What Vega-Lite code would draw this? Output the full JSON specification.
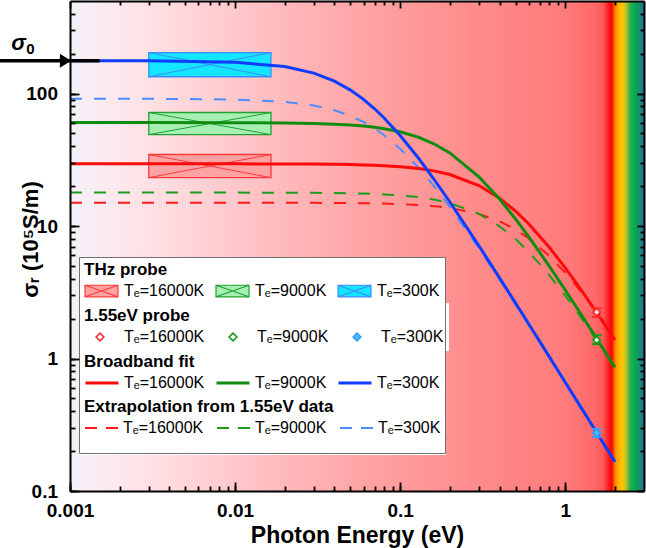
{
  "$schema": "https://vega.github.io/schema/vega-lite/v6.json",
  "width": 574,
  "height": 490,
  "autosize": "none",
  "padding": {"left": 70, "top": 1, "right": 2, "bottom": 57},
  "config": {
    "font": "Liberation Sans",
    "view": {"stroke": null},
    "axis": {
      "domainColor": "black", "domainWidth": 2, "tickColor": "black", "tickWidth": 1.8, "zindex": 1,
      "labelFont": "Liberation Sans", "labelFontSize": 19, "labelFontWeight": "bold", "labelColor": "black",
      "grid": false, "titleFont": "Liberation Sans", "titleFontSize": 23, "titleFontWeight": "bold", "titleColor": "black"
    },
    "legend": {
      "labelFont": "Liberation Sans", "labelFontSize": 16, "labelColor": "black",
      "titleFont": "Liberation Sans", "titleFontSize": 17, "titleFontWeight": "bold", "titleColor": "black",
      "padding": 5, "fillColor": "white", "direction": "horizontal", "columns": 3, "columnPadding": 10,
      "titlePadding": 3, "titleLimit": 400, "labelLimit": 200, "clipHeight": 18
    }
  },
  "datasets": {
    "fit": [
      {"E": 0.001, "16000K": 29.5, "9000K": 60.4, "300K": 177},
      {"E": 0.003, "16000K": 29.5, "9000K": 60.4, "300K": 176.6},
      {"E": 0.01, "16000K": 29.49, "9000K": 60.3, "300K": 172.4},
      {"E": 0.02, "16000K": 29.44, "9000K": 59.98, "300K": 160.0},
      {"E": 0.03, "16000K": 29.36, "9000K": 59.47, "300K": 142.8},
      {"E": 0.04, "16000K": 29.26, "9000K": 58.77, "300K": 124.1},
      {"E": 0.05, "16000K": 29.13, "9000K": 57.89, "300K": 106.3},
      {"E": 0.06, "16000K": 28.96, "9000K": 56.85, "300K": 90.4},
      {"E": 0.07, "16000K": 28.76, "9000K": 55.66, "300K": 76.8},
      {"E": 0.08, "16000K": 28.53, "9000K": 54.36, "300K": 65.5},
      {"E": 0.1, "16000K": 28.07, "9000K": 51.47, "300K": 48.3},
      {"E": 0.13, "16000K": 27.16, "9000K": 46.7, "300K": 32.2},
      {"E": 0.16, "16000K": 26.09, "9000K": 41.82, "300K": 22.66},
      {"E": 0.2, "16000K": 24.5, "9000K": 35.64, "300K": 15.2},
      {"E": 0.3, "16000K": 20.22, "9000K": 23.57, "300K": 7.09},
      {"E": 0.4, "16000K": 16.25, "9000K": 15.99, "300K": 4.06},
      {"E": 0.5, "16000K": 12.97, "9000K": 11.31, "300K": 2.62},
      {"E": 0.6, "16000K": 10.41, "9000K": 8.33, "300K": 1.829},
      {"E": 0.8, "16000K": 6.92, "9000K": 4.99, "300K": 1.033},
      {"E": 1.0, "16000K": 4.84, "9000K": 3.29, "300K": 0.663},
      {"E": 1.2, "16000K": 3.54, "9000K": 2.323, "300K": 0.461},
      {"E": 1.55, "16000K": 2.228, "9000K": 1.414, "300K": 0.2764},
      {"E": 2.0, "16000K": 1.38, "9000K": 0.857, "300K": 0.1661}
    ],
    "extrap": [
      {"E": 0.001, "16000K": 15.0, "9000K": 17.9, "300K": 91.5},
      {"E": 0.003, "16000K": 15.0, "9000K": 17.9, "300K": 91.4},
      {"E": 0.01, "16000K": 15.0, "9000K": 17.89, "300K": 90.25},
      {"E": 0.02, "16000K": 14.99, "9000K": 17.86, "300K": 86.69},
      {"E": 0.03, "16000K": 14.97, "9000K": 17.82, "300K": 81.35},
      {"E": 0.04, "16000K": 14.94, "9000K": 17.76, "300K": 74.88},
      {"E": 0.05, "16000K": 14.91, "9000K": 17.68, "300K": 67.94},
      {"E": 0.06, "16000K": 14.87, "9000K": 17.59, "300K": 61.03},
      {"E": 0.07, "16000K": 14.83, "9000K": 17.47, "300K": 54.47},
      {"E": 0.08, "16000K": 14.77, "9000K": 17.34, "300K": 48.47},
      {"E": 0.1, "16000K": 14.65, "9000K": 17.05, "300K": 38.33},
      {"E": 0.13, "16000K": 14.42, "9000K": 16.51, "300K": 27.36},
      {"E": 0.16, "16000K": 14.14, "9000K": 15.88, "300K": 20.1},
      {"E": 0.2, "16000K": 13.7, "9000K": 14.93, "300K": 13.97},
      {"E": 0.3, "16000K": 12.36, "9000K": 12.36, "300K": 6.79},
      {"E": 0.4, "16000K": 10.87, "9000K": 9.96, "300K": 3.946},
      {"E": 0.5, "16000K": 9.41, "9000K": 7.97, "300K": 2.564},
      {"E": 0.6, "16000K": 8.09, "9000K": 6.41, "300K": 1.797},
      {"E": 0.8, "16000K": 5.95, "9000K": 4.27, "300K": 1.019},
      {"E": 1.0, "16000K": 4.45, "9000K": 2.99, "300K": 0.655},
      {"E": 1.2, "16000K": 3.39, "9000K": 2.19, "300K": 0.456},
      {"E": 1.55, "16000K": 2.24, "9000K": 1.38, "300K": 0.2738},
      {"E": 2.0, "16000K": 1.43, "9000K": 0.855, "300K": 0.1646}
    ],
    "boxes": [
      {"T": "16000K", "E1": 0.003, "E2": 0.0165, "lo": 23.2, "hi": 34.7},
      {"T": "9000K", "E1": 0.003, "E2": 0.0165, "lo": 49, "hi": 72},
      {"T": "300K", "E1": 0.003, "E2": 0.0165, "lo": 134, "hi": 204}
    ],
    "probes": [
      {"T": "16000K", "E": 1.55, "sigma": 2.24, "lo": 2.06, "hi": 2.4},
      {"T": "9000K", "E": 1.55, "sigma": 1.38, "lo": 1.285, "hi": 1.5},
      {"T": "300K", "E": 1.55, "sigma": 0.274, "lo": 0.256, "hi": 0.294}
    ],
    "s0": [{"sigma0": 177}]
  },
  "layer": [
    {
      "data": {"values": [{}]},
      "mark": {"type": "rect", "fill": {"gradient": "linear", "x1": 0, "y1": 0, "x2": 1, "y2": 0, "stops": [
        {"offset": 0, "color": "#f3f1f9"},
        {"offset": 0.05, "color": "#fbecf1"},
        {"offset": 0.15, "color": "#ffdfe3"},
        {"offset": 0.287, "color": "#ffc8cc"},
        {"offset": 0.43, "color": "#ffb0b2"},
        {"offset": 0.574, "color": "#ff9c9c"},
        {"offset": 0.72, "color": "#ff8a8a"},
        {"offset": 0.863, "color": "#ff7b7b"},
        {"offset": 0.915, "color": "#ff6868"},
        {"offset": 0.9286, "color": "#ff5a5a"},
        {"offset": 0.939, "color": "#ff1818"},
        {"offset": 0.944, "color": "#ff0000"},
        {"offset": 0.9495, "color": "#ff8000"},
        {"offset": 0.956, "color": "#ffb400"},
        {"offset": 0.963, "color": "#ffc600"},
        {"offset": 0.97, "color": "#a8c030"},
        {"offset": 0.9756, "color": "#30b048"},
        {"offset": 0.9843, "color": "#00aa55"},
        {"offset": 0.993, "color": "#1c8c74"},
        {"offset": 1, "color": "#2a6890"}
      ]}},
      "encoding": {"x": {"value": 0}, "x2": {"value": "width"}, "y": {"value": 0}, "y2": {"value": "height"}}
    },
    {
      "data": {"name": "boxes"},
      "mark": {"type": "rect", "strokeWidth": 1.3},
      "encoding": {
        "x": {"field": "E1", "type": "quantitative", "scale": {"type": "log", "domain": [0.001, 3], "nice": false},
          "axis": {"orient": "top", "zindex": 1, "values": [0.002,0.003,0.004,0.005,0.006,0.007,0.008,0.009,0.02,0.03,0.04,0.05,0.06,0.07,0.08,0.09,0.2,0.3,0.4,0.5,0.6,0.7,0.8,0.9,2],
            "labels": false, "title": null, "tickSize": -4}},
        "x2": {"field": "E2"},
        "y": {"field": "lo", "type": "quantitative", "scale": {"type": "log", "domain": [0.1, 500], "nice": false},
          "axis": {"orient": "right", "zindex": 1, "values": [0.2,0.3,0.4,0.5,0.6,0.7,0.8,0.9,2,3,4,5,6,7,8,9,20,30,40,50,60,70,80,90,200,300,400],
            "labels": false, "title": null, "tickSize": -4}},
        "y2": {"field": "hi"},
        "fill": {"field": "T", "type": "nominal", "scale": {"domain": ["16000K", "9000K", "300K"], "range": ["#ffa2a4", "#a6f0b4", "#14e6ff"]},
          "legend": {"title": "THz probe", "orient": "none", "legendX": 9, "legendY": 256, "symbolType": "M-1,-0.35H1V0.35H-1Z M-1,-0.35L1,0.35 M-1,0.35L1,-0.35", "symbolSize": 1089, "symbolStrokeWidth": 1.2, "labelOffset": 5, "labelExpr": "'Tₑ=' + datum.label"}},
        "stroke": {"field": "T", "type": "nominal", "scale": {"domain": ["16000K", "9000K", "300K"], "range": ["#ff3a3a", "#22a032", "#3d8cff"]},
          "legend": {"title": "THz probe", "orient": "none", "legendX": 9, "legendY": 256, "symbolType": "M-1,-0.35H1V0.35H-1Z M-1,-0.35L1,0.35 M-1,0.35L1,-0.35", "symbolSize": 1089, "symbolStrokeWidth": 1.2, "labelOffset": 5, "labelExpr": "'Tₑ=' + datum.label"}}
      }
    },
    {
      "data": {"name": "boxes"},
      "mark": {"type": "rule", "strokeWidth": 1},
      "encoding": {
        "x": {"field": "E1", "type": "quantitative", "scale": {"type": "log", "domain": [0.001, 3], "nice": false},
          "axis": {"orient": "top", "zindex": 1, "values": [0.001, 0.01, 0.1, 1], "labels": false, "title": null, "domain": false, "tickSize": -7}},
        "x2": {"field": "E2"},
        "y": {"field": "lo", "type": "quantitative", "scale": {"type": "log", "domain": [0.1, 500], "nice": false},
          "axis": {"orient": "right", "zindex": 1, "values": [0.1, 1, 10, 100], "labels": false, "title": null, "domain": false, "tickSize": -7}},
        "y2": {"field": "hi"},
        "stroke": {"field": "T", "type": "nominal", "scale": {"domain": ["16000K", "9000K", "300K"], "range": ["#ff3a3a", "#22a032", "#3d8cff"]}, "legend": null}
      }
    },
    {
      "data": {"name": "boxes"},
      "mark": {"type": "rule", "strokeWidth": 1},
      "encoding": {
        "x": {"field": "E1", "type": "quantitative", "scale": {"type": "log", "domain": [0.001, 3], "nice": false}, "axis": null},
        "x2": {"field": "E2"},
        "y": {"field": "hi", "type": "quantitative", "scale": {"type": "log", "domain": [0.1, 500], "nice": false}, "axis": null},
        "y2": {"field": "lo"},
        "stroke": {"field": "T", "type": "nominal", "scale": {"domain": ["16000K", "9000K", "300K"], "range": ["#ff3a3a", "#22a032", "#3d8cff"]}, "legend": null}
      }
    },
    {
      "data": {"name": "extrap"},
      "transform": [{"fold": ["16000K", "9000K", "300K"], "as": ["T", "sigma"]}],
      "mark": {"type": "line", "strokeWidth": 2, "strokeDash": [12, 12]},
      "encoding": {
        "x": {"field": "E", "type": "quantitative", "scale": {"type": "log", "domain": [0.001, 3], "nice": false},
          "axis": {"orient": "bottom", "zindex": 1, "values": [0.001, 0.01, 0.1, 1], "labels": false, "title": null, "domain": false, "tickSize": -9}},
        "y": {"field": "sigma", "type": "quantitative", "scale": {"type": "log", "domain": [0.1, 500], "nice": false},
          "axis": {"orient": "left", "zindex": 1, "values": [0.1, 1, 10, 100], "labels": false, "title": null, "domain": false, "tickSize": -9}},
        "stroke": {"field": "T", "type": "nominal", "scale": {"domain": ["16000K", "9000K", "300K"], "range": ["#ff1a1a", "#1c9e1c", "#4c8dff"]},
          "legend": {"title": "Extrapolation from 1.55eV data", "orient": "none", "legendX": 9, "legendY": 393, "symbolType": "stroke", "symbolSize": 1089, "symbolStrokeWidth": 2, "symbolDash": [12, 9], "labelOffset": 4, "columnPadding": 12, "clipHeight": 44, "titlePadding": -10, "labelExpr": "'Tₑ=' + datum.label"}}
      }
    },
    {
      "data": {"name": "fit"},
      "transform": [{"fold": ["16000K", "9000K", "300K"], "as": ["T", "sigma"]}],
      "mark": {"type": "line", "strokeWidth": 3},
      "encoding": {
        "x": {"field": "E", "type": "quantitative", "scale": {"type": "log", "domain": [0.001, 3], "nice": false},
          "axis": {"orient": "bottom", "zindex": 1, "values": [0.001,0.002,0.003,0.004,0.005,0.006,0.007,0.008,0.009,0.01,0.02,0.03,0.04,0.05,0.06,0.07,0.08,0.09,0.1,0.2,0.3,0.4,0.5,0.6,0.7,0.8,0.9,1,2],
            "labelExpr": "abs(log(datum.value)/LN10 - round(log(datum.value)/LN10)) < 0.001 ? format(datum.value, '~g') : ''",
            "tickSize": -5, "labelPadding": 15.5, "labelOverlap": false, "labelFlush": false,
            "title": "Photon Energy (eV)", "titleY": 51, "titleBaseline": "alphabetic"}},
        "y": {"field": "sigma", "type": "quantitative", "scale": {"type": "log", "domain": [0.1, 500], "nice": false},
          "axis": {"orient": "left", "zindex": 1, "values": [0.1,0.2,0.3,0.4,0.5,0.6,0.7,0.8,0.9,1,2,3,4,5,6,7,8,9,10,20,30,40,50,60,70,80,90,100,200,300,400],
            "labelExpr": "abs(log(datum.value)/LN10 - round(log(datum.value)/LN10)) < 0.001 ? format(datum.value, '~g') : ''",
            "tickSize": -5, "labelPadding": 17.5, "labelOverlap": false, "labelFlush": false,
            "title": "σᵣ (10⁵S/m)", "titleFontSize": 22, "titleX": -33, "titleY": 238, "titleAngle": -90, "titleAlign": "center", "titleBaseline": "alphabetic"}},
        "stroke": {"field": "T", "type": "nominal", "scale": {"domain": ["16000K", "9000K", "300K"], "range": ["#ff0a0a", "#118c11", "#0f3cff"]},
          "legend": {"title": "Broadband fit", "orient": "none", "legendX": 9, "legendY": 348, "symbolType": "stroke", "symbolSize": 1089, "symbolStrokeWidth": 3, "labelOffset": 4, "labelExpr": "'Tₑ=' + datum.label"}}
      }
    },
    {
      "data": {"name": "probes"},
      "mark": {"type": "rule", "strokeWidth": 2},
      "encoding": {
        "x": {"field": "E", "type": "quantitative", "scale": {"type": "log", "domain": [0.001, 3], "nice": false}, "axis": null},
        "y": {"field": "lo", "type": "quantitative", "scale": {"type": "log", "domain": [0.1, 500], "nice": false}, "axis": null},
        "y2": {"field": "hi"},
        "stroke": {"field": "T", "type": "nominal", "scale": {"domain": ["16000K", "9000K", "300K"], "range": ["#ff2a2a", "#1a9a1a", "#3a9cff"]}, "legend": null}
      }
    },
    {
      "data": {"name": "probes"},
      "mark": {"type": "tick", "orient": "horizontal", "thickness": 2, "size": 10, "opacity": 1},
      "encoding": {
        "x": {"field": "E", "type": "quantitative", "scale": {"type": "log", "domain": [0.001, 3], "nice": false}, "axis": null},
        "y": {"field": "lo", "type": "quantitative", "scale": {"type": "log", "domain": [0.1, 500], "nice": false}, "axis": null},
        "color": {"field": "T", "type": "nominal", "scale": {"domain": ["16000K", "9000K", "300K"], "range": ["#ff2a2a", "#1a9a1a", "#3a9cff"]}, "legend": null}
      }
    },
    {
      "data": {"name": "probes"},
      "mark": {"type": "tick", "orient": "horizontal", "thickness": 2, "size": 10, "opacity": 1},
      "encoding": {
        "x": {"field": "E", "type": "quantitative", "scale": {"type": "log", "domain": [0.001, 3], "nice": false}, "axis": null},
        "y": {"field": "hi", "type": "quantitative", "scale": {"type": "log", "domain": [0.1, 500], "nice": false}, "axis": null},
        "color": {"field": "T", "type": "nominal", "scale": {"domain": ["16000K", "9000K", "300K"], "range": ["#ff2a2a", "#1a9a1a", "#3a9cff"]}, "legend": null}
      }
    },
    {
      "data": {"name": "probes"},
      "mark": {"type": "point", "shape": "diamond", "filled": true, "size": 55, "strokeWidth": 1.8, "opacity": 1},
      "encoding": {
        "x": {"field": "E", "type": "quantitative", "scale": {"type": "log", "domain": [0.001, 3], "nice": false}, "axis": null},
        "y": {"field": "sigma", "type": "quantitative", "scale": {"type": "log", "domain": [0.1, 500], "nice": false}, "axis": null},
        "fill": {"field": "T", "type": "nominal", "scale": {"domain": ["16000K", "9000K", "300K"], "range": ["#ffffff", "#ffffff", "#45c0ff"]},
          "legend": {"title": "1.55eV probe", "orient": "none", "legendX": 9, "legendY": 302, "symbolType": "diamond", "symbolSize": 60, "symbolStrokeWidth": 1.6, "symbolOffset": 8, "labelOffset": 16, "columnPadding": 12, "labelExpr": "'Tₑ=' + datum.label"}},
        "stroke": {"field": "T", "type": "nominal", "scale": {"domain": ["16000K", "9000K", "300K"], "range": ["#ff2a2a", "#1a9a1a", "#3a9cff"]},
          "legend": {"title": "1.55eV probe", "orient": "none", "legendX": 9, "legendY": 302, "symbolType": "diamond", "symbolSize": 60, "symbolStrokeWidth": 1.6, "symbolOffset": 8, "labelOffset": 16, "columnPadding": 12, "labelExpr": "'Tₑ=' + datum.label"}}
      }
    },
    {
      "data": {"name": "s0"},
      "mark": {"type": "rule", "strokeWidth": 3.5, "color": "black"},
      "encoding": {
        "x": {"datum": 0.00035, "type": "quantitative", "scale": {"type": "log", "domain": [0.001, 3], "nice": false}, "axis": null},
        "x2": {"datum": 0.00151},
        "y": {"field": "sigma0", "type": "quantitative", "scale": {"type": "log", "domain": [0.1, 500], "nice": false}, "axis": null},
        "strokeDash": {"field": "sigma0", "type": "nominal", "scale": {"range": [[1, 0]]},
          "legend": {"title": null, "orient": "none", "legendX": 9, "legendY": 256, "padding": 0, "columns": 1, "fillColor": "transparent", "strokeColor": "#707070",
            "symbolType": "M-1,-1H1V0.071H-1Z", "symbolSize": 133956, "symbolOpacity": 0, "symbolStrokeWidth": 0, "labelExpr": "''", "labelOffset": 0, "clipHeight": 0}}
      }
    },
    {
      "data": {"name": "s0"},
      "mark": {"type": "point", "shape": "M-0.8,-1L0.8,0L-0.8,1Z", "filled": true, "size": 196, "color": "black", "opacity": 1},
      "encoding": {
        "x": {"datum": 0.000939, "type": "quantitative", "scale": {"type": "log", "domain": [0.001, 3], "nice": false}, "axis": null},
        "y": {"field": "sigma0", "type": "quantitative", "scale": {"type": "log", "domain": [0.1, 500], "nice": false}, "axis": null}
      }
    },
    {
      "data": {"name": "s0"},
      "mark": {"type": "text", "text": "σ", "font": "Liberation Sans", "fontStyle": "italic", "fontWeight": "bold", "fontSize": 22, "align": "center", "baseline": "alphabetic", "dy": -11, "color": "black"},
      "encoding": {
        "x": {"datum": 0.000488, "type": "quantitative", "scale": {"type": "log", "domain": [0.001, 3], "nice": false}, "axis": null},
        "y": {"field": "sigma0", "type": "quantitative", "scale": {"type": "log", "domain": [0.1, 500], "nice": false}, "axis": null}
      }
    },
    {
      "data": {"name": "s0"},
      "mark": {"type": "text", "text": "0", "font": "Liberation Sans", "fontWeight": "bold", "fontSize": 15, "align": "center", "baseline": "alphabetic", "dy": -7, "color": "black"},
      "encoding": {
        "x": {"datum": 0.000575, "type": "quantitative", "scale": {"type": "log", "domain": [0.001, 3], "nice": false}, "axis": null},
        "y": {"field": "sigma0", "type": "quantitative", "scale": {"type": "log", "domain": [0.1, 500], "nice": false}, "axis": null}
      }
    }
  ],
  "resolve": {
    "scale": {"fill": "independent", "stroke": "independent", "color": "independent", "strokeDash": "independent"},
    "axis": {"x": "independent", "y": "independent"}
  }
}
